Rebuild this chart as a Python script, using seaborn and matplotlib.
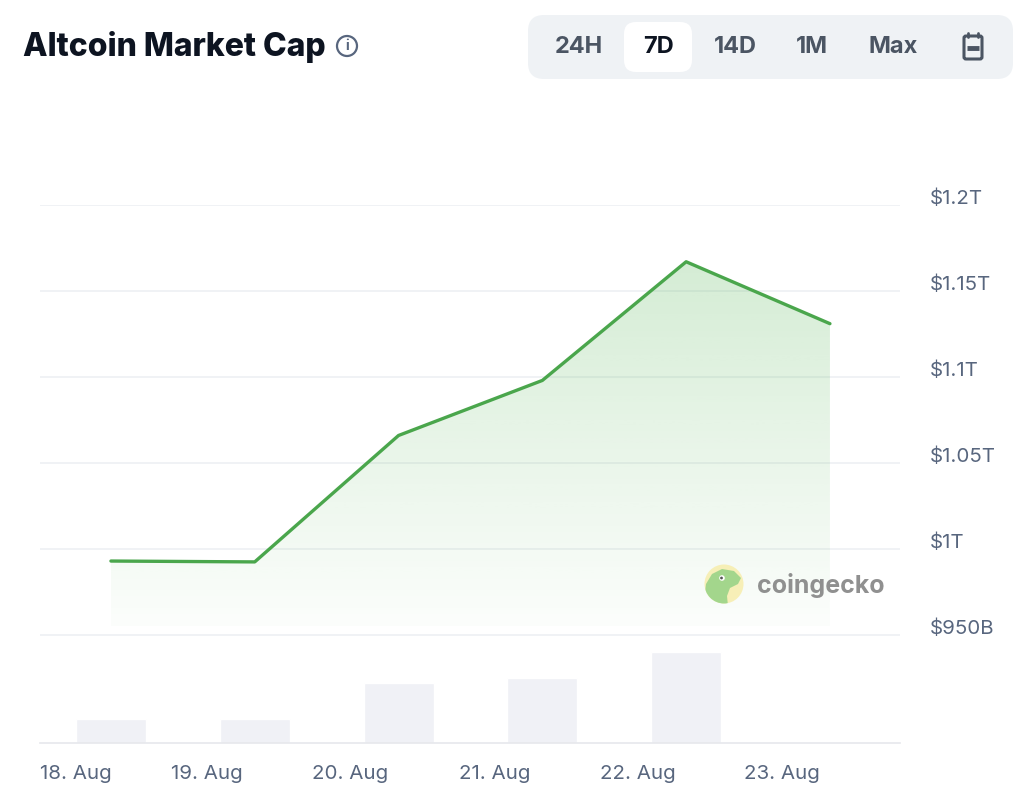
import numpy as np
import pandas as pd
import matplotlib
matplotlib.use("Agg")
import matplotlib.pyplot as plt
import matplotlib.dates as mdates
import matplotlib.transforms as mtransforms
from matplotlib.patches import FancyBboxPatch, Circle, Polygon
import seaborn as sns

# ---------------- data ----------------
dates = ["2024-08-18 08:00", "2024-08-19 08:00", "2024-08-20 08:00",
         "2024-08-21 08:00", "2024-08-22 08:00", "2024-08-23 08:00"]
market_cap_t = [0.993, 0.9925, 1.066, 1.098, 1.167, 1.131]
vol_dates = ["2024-08-18 08:00", "2024-08-19 08:00", "2024-08-20 08:00",
             "2024-08-21 08:00", "2024-08-22 08:00"]
volume_b = [42, 42, 105, 114, 159]
y_ticks = [0.95, 1.0, 1.05, 1.1, 1.15, 1.2]
y_labels = ["$950B", "$1T", "$1.05T", "$1.1T", "$1.15T", "$1.2T"]
x_tick_dates = ["2024-08-18", "2024-08-19", "2024-08-20", "2024-08-21", "2024-08-22", "2024-08-23"]
x_tick_labels = ["18. Aug", "19. Aug", "20. Aug", "21. Aug", "22. Aug", "23. Aug"]
title = "Altcoin Market Cap"
buttons = ["24H", "7D", "14D", "1M", "Max"]

df = pd.DataFrame({"date": pd.to_datetime(dates), "cap": market_cap_t})
dfv = pd.DataFrame({"date": pd.to_datetime(vol_dates), "vol": volume_b})

sns.set_theme(style="white")
plt.rcParams["font.family"] = ["Inter", "DejaVu Sans"]

W, H = 1030, 794
fig = plt.figure(figsize=(W / 100, H / 100), dpi=100)
fig.patch.set_facecolor("white")

def fx(px):
    return px / W

def fy(py):
    return 1 - py / H

GREEN = "#4aa64c"
LABEL = "#58667e"
GRID = "#eef0f3"
PT = 72 / 100.0  # points per pixel

# main axes
left, right, top, bottom = 40, 900, 205, 743
ax = fig.add_axes([fx(left), fy(bottom), fx(right - left), fy(top) - fy(bottom)])
ax2 = ax.twinx()
ax.set_zorder(2)
ax.patch.set_visible(False)

# volume bars
ax2.bar(mdates.date2num(dfv["date"]), dfv["vol"], width=0.487, color="#f0f1f6", zorder=1)
ax2.set_ylim(0, max(volume_b) * (bottom - top) / 91)
ax2.set_yticks([])
for s in ax2.spines.values():
    s.set_visible(False)

# price line
sns.lineplot(data=df, x="date", y="cap", ax=ax, color=GREEN, linewidth=2.4, zorder=5)

ymin = 0.95 - (bottom - 635) / 1720.0
ax.set_ylim(ymin, 1.2)
x0 = mdates.date2num(pd.Timestamp("2024-08-18"))
x5 = mdates.date2num(pd.Timestamp("2024-08-23"))
ppd = (782 - 63) / 5.0
ax.set_xlim(x0 - (63 - left) / ppd, x5 + (right - 782) / ppd)

# gradient fill under line
xs = mdates.date2num(df["date"])
base = 0.955
poly = ax.fill_between(xs, df["cap"], base, color="none", linewidth=0)
grad = np.zeros((256, 1, 4))
g = np.linspace(0, 1, 256)[:, None]
rgb = matplotlib.colors.to_rgb("#5cb85c")
grad[..., 0] = rgb[0]
grad[..., 1] = rgb[1]
grad[..., 2] = rgb[2]
grad[..., 3] = 0.30 * g + 0.02 * (1 - g)
im = ax.imshow(grad, aspect="auto", extent=[xs[0], xs[-1], base, 1.2],
               origin="lower", zorder=3)
path = poly.get_paths()[0]
im.set_clip_path(path, transform=ax.transData)

# grid
ax.set_yticks(y_ticks)
ax.set_yticklabels(y_labels)
ax.yaxis.tick_right()
ax.grid(axis="y", color=GRID, linewidth=1.2)
ax.grid(axis="x", visible=False)
ax.tick_params(axis="y", length=0, pad=30 * PT, labelsize=14.8, labelcolor=LABEL)
off = mtransforms.ScaledTranslation(0, 8 / 100, fig.dpi_scale_trans)
for lab in ax.get_yticklabels():
    lab.set_transform(lab.get_transform() + off)
    lab.set_horizontalalignment("left")

ax.set_xticks(mdates.date2num(pd.to_datetime(x_tick_dates)))
ax.set_xticklabels(x_tick_labels)
ax.tick_params(axis="x", length=12, width=1.2, color="#e6e8ec", pad=4,
               labelsize=14.8, labelcolor=LABEL)
first = ax.get_xticklabels()[0]
first.set_horizontalalignment("left")
first.set_transform(first.get_transform() +
                    mtransforms.ScaledTranslation(-(63 - left) / 100, 0, fig.dpi_scale_trans))
ax.set_xlabel("")
ax.set_ylabel("")
for k, s in ax.spines.items():
    s.set_visible(k == "bottom")
ax.spines["bottom"].set_color("#e6e8ec")
ax.spines["bottom"].set_linewidth(1.2)

# ---------------- decorations (overlay in pixel space) ----------------
ov = fig.add_axes([0, 0, 1, 1], zorder=10)
ov.set_xlim(0, W)
ov.set_ylim(H, 0)
ov.axis("off")

ov.text(23, 47, title, fontsize=23, fontweight="heavy", color="#0d1421",
        va="center", ha="left")
ov.add_patch(Circle((347, 46), 10, fill=False, edgecolor=LABEL, linewidth=1.6))
ov.text(347, 46.5, "i", fontsize=10, fontweight="bold", color=LABEL, ha="center", va="center")

ov.add_patch(FancyBboxPatch((528 + 16, 15 + 16), 485 - 32, 64 - 32,
                            boxstyle="round,pad=16", facecolor="#eff2f5", edgecolor="none"))
ov.add_patch(FancyBboxPatch((624 + 12, 22 + 12), 68 - 24, 50 - 24,
                            boxstyle="round,pad=12", facecolor="white", edgecolor="none"))
bx = [579, 658, 735, 812, 893]
for b, x in zip(buttons, bx):
    ov.text(x, 47, b, fontsize=17, fontweight="bold",
            color="#0d1421" if b == "7D" else "#4b5563", ha="center", va="center")
# calendar icon
ov.add_patch(FancyBboxPatch((966, 38), 14, 19, boxstyle="round,pad=2",
                            fill=False, edgecolor="#4b5563", linewidth=2.2))
ov.plot([967, 979], [47.5, 47.5], color="#4b5563", linewidth=3.5, solid_capstyle="butt")
ov.plot([968, 968], [33, 37], color="#4b5563", linewidth=2)
ov.plot([978, 978], [33, 37], color="#4b5563", linewidth=2)

# watermark
logo_clip = Circle((724, 584), 19.5, transform=ov.transData)
ov.add_patch(Circle((724, 584), 19.5, facecolor="#f7eeb0", edgecolor="none", alpha=0.9))
gecko = Polygon([[704, 600], [706, 584], [712, 574], [722, 569], [734, 571], [741, 578],
                 [738, 584], [730, 588], [727, 596], [728, 606], [704, 606]], closed=True,
                facecolor="#9fd58a", edgecolor="none", alpha=0.95)
ov.add_patch(gecko)
gecko.set_clip_path(logo_clip)
ov.add_patch(Circle((722, 578), 2.8, facecolor="white", edgecolor="none"))
ov.add_patch(Circle((721.5, 578), 1.4, facecolor="#555555", edgecolor="none"))
ov.text(757, 585, "coingecko", fontsize=18, fontweight="bold", color="#8a8a8a",
        ha="left", va="center", alpha=0.95)

fig.savefig("out.png", dpi=100)
